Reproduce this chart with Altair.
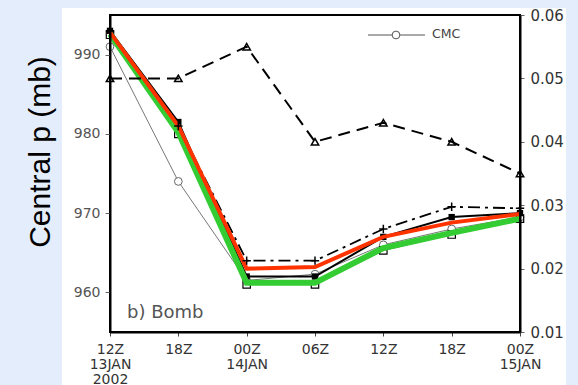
import json
import altair as alt
import pandas as pd

# Forecast times, 6-hourly from 12Z 13 Jan 2002
steps = [0, 1, 2, 3, 4, 5, 6]
tick_lines = [["12Z", "13JAN", "2002"], ["18Z"], ["00Z", "14JAN"], ["06Z"],
              ["12Z"], ["18Z"], ["00Z", "15JAN"]]

# Central pressure (mb) of each run
dashdot_plus = [993.0, 981.0, 964.0, 964.0, 968.0, 970.8, 970.6]
solid_filled = [993.0, 981.5, 962.0, 962.0, 967.0, 969.5, 970.0]
thin_open = [992.5, 980.0, 961.0, 961.0, 965.3, 967.3, 969.3]
cmc = [991.0, 974.0, 961.5, 962.3, 966.0, 968.0, 969.5]
red_run = [992.8, 981.0, 963.0, 963.2, 967.0, 968.8, 969.9]
green_run = [992.6, 980.2, 961.2, 961.2, 965.6, 967.5, 969.3]

# Right-hand scale series (dashed, triangles)
dashed_tri = [0.050, 0.050, 0.055, 0.040, 0.043, 0.040, 0.035]

LABEL_FONT = "DejaVu Sans"


def frame(vals, name="v"):
    return pd.DataFrame({"step": steps, name: vals})


X = alt.X(
    "step:Q",
    scale=alt.Scale(domain=[0, 6], nice=False, zero=False),
    axis=alt.Axis(
        values=steps,
        labelExpr=json.dumps(tick_lines) + "[datum.value]",
        labelLineHeight=15,
        labelFont=LABEL_FONT,
        labelFontSize=14,
        labelColor="#333333",
        labelPadding=6,
        labelOverlap=False,
        labelFlush=False,
        labelBound=False,
        tickSize=4,
        tickColor="#444444",
        domainColor="black",
        domainWidth=2,
        grid=False,
        title=None,
        zindex=1,
    ),
)

Y = alt.Y(
    "v:Q",
    scale=alt.Scale(domain=[955, 995], nice=False, zero=False),
    axis=alt.Axis(
        values=[960, 970, 980, 990],
        labelFont=LABEL_FONT,
        labelFontSize=14,
        labelColor="#555555",
        labelPadding=5,
        tickSize=5,
        tickColor="#666666",
        domainColor="black",
        domainWidth=2,
        grid=False,
        title=None,
        zindex=1,
    ),
)

R = alt.Y(
    "r:Q",
    scale=alt.Scale(domain=[0.01, 0.06], nice=False, zero=False),
    axis=alt.Axis(
        orient="right",
        values=[0.01, 0.02, 0.03, 0.04, 0.05, 0.06],
        format=".2f",
        labelFont=LABEL_FONT,
        labelFontSize=15,
        labelColor="#333333",
        labelPadding=6,
        tickSize=4,
        tickColor="#666666",
        domainColor="black",
        domainWidth=2,
        grid=False,
        title=None,
        zindex=1,
    ),
)

one = pd.DataFrame({"k": [0]})

# White page area behind the panel
page = alt.Chart(one).mark_rect(color="white").encode(
    x=alt.value(-48), x2=alt.value(456), y=alt.value(-7), y2=alt.value(370)
)

# Runs on the left (mb) scale
cmc_line = alt.Chart(frame(cmc)).mark_line(color="#777777", strokeWidth=1).encode(x=X, y=Y)
cmc_pts = alt.Chart(frame(cmc)).mark_point(
    shape="circle", fill="white", fillOpacity=1, stroke="#666666", strokeWidth=1, size=60, opacity=1
).encode(x=X, y=Y)
open_line = alt.Chart(frame(thin_open)).mark_line(color="black", strokeWidth=1).encode(x=X, y=Y)
filled_line = alt.Chart(frame(solid_filled)).mark_line(color="black", strokeWidth=2).encode(x=X, y=Y)
dd_line = alt.Chart(frame(dashdot_plus)).mark_line(
    color="black", strokeWidth=1.8, strokeDash=[12, 5, 3, 5]
).encode(x=X, y=Y)
green_line = alt.Chart(frame(green_run)).mark_line(color="#33cc33", strokeWidth=6).encode(x=X, y=Y)
red_line = alt.Chart(frame(red_run)).mark_line(color="#ff3300", strokeWidth=4).encode(x=X, y=Y)
open_pts = alt.Chart(frame(thin_open)).mark_point(
    shape="square", filled=False, color="black", strokeWidth=1.2, size=55, opacity=1
).encode(x=X, y=Y)
filled_pts = alt.Chart(frame(solid_filled)).mark_square(color="black", size=40, opacity=1).encode(x=X, y=Y)
plus_pts = alt.Chart(frame(dashdot_plus)).mark_point(
    shape="M-1,0L1,0M0,-1L0,1", stroke="black", strokeWidth=1.5, size=70, opacity=1
).encode(x=X, y=Y)

left = alt.layer(cmc_line, cmc_pts, open_line, filled_line, dd_line,
                 open_pts, filled_pts, green_line, red_line, plus_pts)

# Dashed series on the right-hand scale
tri_line = alt.Chart(frame(dashed_tri, "r")).mark_line(
    color="black", strokeWidth=2, strokeDash=[12, 7]
).encode(x=X, y=R)
tri_pts = alt.Chart(frame(dashed_tri, "r")).mark_point(
    shape="triangle-up", filled=False, color="black", strokeWidth=1.5, size=55, opacity=1
).encode(x=X, y=R)
right = alt.layer(tri_line, tri_pts)

# Panel frame drawn over the data
border = alt.Chart(one).mark_rect(fillOpacity=0, stroke="black", strokeWidth=2).encode(
    x=alt.value(0), x2=alt.value(410), y=alt.value(0), y2=alt.value(317)
)

# Legend entry, panel tag and axis title
leg_rule = alt.Chart(one).mark_rule(color="#555555", strokeWidth=1).encode(
    x=alt.value(258), x2=alt.value(315), y=alt.value(20)
)
leg_pt = alt.Chart(one).mark_point(
    shape="circle", fill="white", fillOpacity=1, stroke="#555555", strokeWidth=1, size=60, opacity=1
).encode(x=alt.value(286), y=alt.value(20))
leg_txt = alt.Chart(one).mark_text(
    text="CMC", font=LABEL_FONT, fontSize=12.5, color="#444444", align="left", baseline="middle"
).encode(x=alt.value(322), y=alt.value(19))
tag = alt.Chart(one).mark_text(
    text="b)  Bomb", font=LABEL_FONT, fontSize=18, color="#555555", align="left", baseline="alphabetic"
).encode(x=alt.value(17), y=alt.value(303))
ytitle = alt.Chart(one).mark_text(
    text="Central p (mb)", font="Liberation Sans", fontSize=30, color="black",
    angle=270, align="center", baseline="alphabetic"
).encode(x=alt.value(-60), y=alt.value(137))

chart = alt.layer(
    page, left, right, border, leg_rule, leg_pt, leg_txt, tag, ytitle
).resolve_scale(y="independent").properties(
    width=410,
    height=317,
    autosize=alt.AutoSizeParams(type="none"),
    padding={"left": 110, "top": 15, "right": 58, "bottom": 53},
    background="#e4edfb",
).configure_view(stroke=None)

chart.save("out.html", embed_options={"renderer": "svg", "actions": False})
